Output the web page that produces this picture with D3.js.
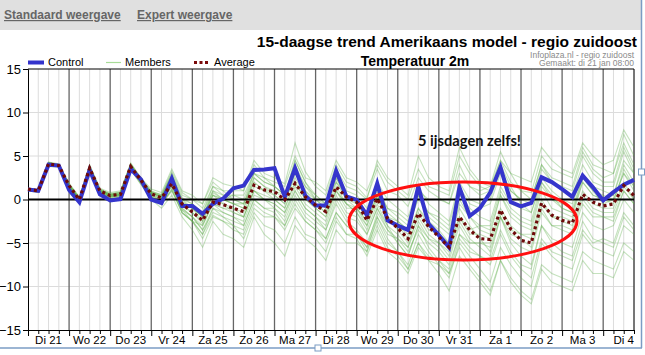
<!DOCTYPE html>
<html><head><meta charset="utf-8">
<script src="https://cdn.jsdelivr.net/npm/d3@7"></script>
<style>html,body{margin:0;padding:0;background:#fff;} svg{display:block;}</style>
</head><body><svg id="c" width="645" height="355"></svg>
<script>
const dayLabels = ["Di 21","Wo 22","Do 23","Vr 24","Za 25","Zo 26","Ma 27","Di 28","Wo 29","Do 30","Vr 31","Za 1","Zo 2","Ma 3","Di 4"];
const yTicks = [-15,-10,-5,0,5,10,15];
const control = [1.15,1.0,4.0,3.9, 1.1,-0.3,3.4,0.6, -0.1,0.05,3.5,2.3, 0.0,-0.4,2.4,-0.75, -0.75,-1.65,-0.5,0.1, 1.3,1.6,3.4,3.45, 3.6,0.3,3.6,0.45, -0.7,-0.7,3.3,0.35, -0.05,-1.8,1.85,-2.4, -3.0,-3.5,1.5,-2.8, -4.1,-5.5,1.4,-1.9, -1.0,0.8,3.7,-0.3, -0.8,-0.4,2.55,2.0, 1.2,0.3,2.75,1.4, -0.1,0.85,1.7,2.25];
const average = [1.2,1.0,4.1,3.9, 1.6,0.0,3.6,1.0, 0.45,0.6,3.8,2.2, 0.65,0.2,1.8,-0.5, -1.45,-2.4,-0.3,-0.6, -1.0,-1.4,1.65,1.1, 0.9,-0.05,1.85,0.3, -0.65,-1.4,1.45,0.3, -0.3,-2.4,0.1,-2.15, -3.3,-4.5,-1.6,-3.1, -4.3,-5.5,-2.0,-3.5, -4.5,-4.6,-1.2,-3.4, -4.7,-5.0,-0.4,-1.8, -2.4,-2.7,0.6,-0.3, -0.75,-0.5,1.6,0.45];
const m01 = [1.3,1.1,4.3,4.0, 1.8,0.2,3.8,1.2, 0.7,0.9,4.2,2.5, 1.2,0.8,3.5,1.0, 0.5,-0.5,2.5,1.8, 1.5,1.0,4.5,3.0, 2.5,1.8,6.5,3.2, 1.5,0.5,4.0,2.0, 1.5,0.2,3.5,1.0, 0.5,-0.8,2.5,1.0, 0.2,-0.5,4.0,1.5, 0.5,1.0,4.5,2.0, 1.0,0.8,5.0,3.5, 3.0,2.5,6.0,4.0, 3.5,3.0,7.5,5.0];
const m02 = [1.1,0.9,3.9,3.8, 1.4,-0.3,3.4,0.8, 0.2,0.3,3.5,1.8, 0.2,-0.6,1.0,-1.5, -2.5,-4.0,-1.8,-2.5, -3.5,-4.0,-1.0,-2.0, -2.0,-3.0,-0.5,-2.5, -3.5,-4.5,-1.5,-3.0, -3.8,-5.5,-2.5,-5.0, -6.0,-7.5,-4.0,-6.0, -7.5,-9.0,-5.0,-6.5, -8.0,-9.5,-5.5,-7.5, -9.0,-10.0,-5.0,-6.5, -7.5,-8.0,-4.0,-5.5, -6.0,-6.5,-3.0,-4.0];
const m03 = [1.2,1.0,4.2,3.9, 1.7,0.1,3.9,1.1, 0.6,0.8,4.0,2.3, 0.8,0.3,2.5,-0.2, -1.0,-2.0,0.8,0.0, -0.5,-1.0,2.5,1.5, 1.0,0.0,2.5,0.5, -0.5,-1.5,1.0,-0.5, -1.5,-3.0,0.0,-2.0, -3.0,-4.0,-1.0,-2.5, -3.5,-5.0,-0.5,-2.0, -3.0,-3.5,0.5,-1.5, -2.5,-3.0,1.5,0.0, -0.5,-1.0,2.5,1.0, 0.5,0.0,3.0,1.5];
const m04 = [1.0,0.8,4.0,3.8, 1.5,-0.2,3.5,0.8, 0.3,0.5,3.6,2.0, 0.5,-0.2,1.5,-1.0, -2.0,-3.5,-1.0,-1.5, -2.0,-2.5,0.5,0.0, -0.5,-1.5,1.0,-1.0, -2.0,-3.0,0.5,-1.5, -2.0,-4.0,-1.0,-3.5, -4.5,-6.0,-3.5,-5.0, -6.0,-7.5,-4.0,-5.5, -6.5,-7.0,-3.5,-6.0, -7.5,-8.0,-3.0,-4.5, -5.0,-5.5,-1.5,-3.0, -3.5,-3.0,0.0,-1.5];
const m05 = [1.3,1.0,4.1,4.0, 1.6,0.0,3.7,1.0, 0.5,0.6,3.9,2.2, 0.7,0.4,2.0,-0.5, -1.5,-2.5,0.0,-0.5, -1.0,-1.5,1.5,1.0, 1.0,0.5,3.0,1.0, 0.0,-0.5,2.0,0.5, 0.0,-1.5,1.5,-1.0, -2.0,-3.0,0.0,-1.5, -2.5,-3.5,0.5,-1.0, -2.0,-2.5,1.5,-0.5, -1.0,-1.5,2.5,1.0, 0.0,-0.5,3.0,1.5, 1.0,0.5,4.0,2.0];
const m06 = [1.1,1.0,4.0,3.9, 1.5,-0.1,3.5,0.9, 0.4,0.4,3.7,2.1, 0.3,-0.3,1.0,-1.2, -2.5,-3.0,-0.5,-1.5, -2.0,-3.0,0.0,-1.0, -1.0,-2.5,0.5,-1.5, -2.5,-3.5,-0.5,-2.5, -3.5,-5.0,-2.0,-4.5, -6.0,-8.0,-5.0,-7.0, -8.5,-10.5,-6.5,-8.0, -9.5,-11.0,-7.0,-9.0, -10.5,-11.5,-7.5,-8.5, -9.0,-9.5,-6.0,-7.0, -7.5,-8.0,-5.0,-6.0];
const m07 = [1.2,1.1,4.3,4.1, 1.9,0.3,4.0,1.3, 0.8,1.0,4.1,2.4, 1.0,0.5,3.0,0.5, 0.0,-1.0,1.5,0.5, 0.5,0.0,3.0,2.0, 1.5,0.5,4.0,1.5, 0.5,-0.5,3.0,1.0, 0.5,-1.0,2.0,0.0, -1.0,-2.0,1.5,-0.5, -1.5,-2.5,2.0,0.0, -0.5,0.0,3.5,1.0, 0.0,-0.5,3.5,2.0, 1.5,1.0,5.0,3.0, 2.0,2.0,6.0,3.5];
const m08 = [1.2,0.9,4.0,3.8, 1.6,0.0,3.6,0.9, 0.4,0.5,3.8,2.0, 0.6,0.0,1.8,-0.8, -1.5,-2.8,-0.5,-1.0, -1.5,-2.0,1.0,0.5, 0.0,-1.0,2.0,0.0, -1.0,-2.0,1.5,-0.5, -1.0,-2.5,0.5,-2.0, -3.5,-5.0,-2.0,-4.0, -5.0,-6.5,-2.5,-4.5, -5.5,-6.5,-2.0,-4.5, -5.5,-6.0,-1.5,-3.0, -3.5,-4.0,-0.5,-2.0, -2.0,-2.5,1.0,-0.5];
const m09 = [1.1,0.9,3.8,3.7, 1.4,-0.4,3.3,0.7, 0.1,0.2,3.4,1.7, 0.0,-1.0,0.5,-2.0, -3.5,-5.5,-2.5,-4.0, -4.5,-5.5,-2.0,-4.0, -5.0,-6.5,-3.0,-4.5, -5.5,-7.0,-3.5,-5.0, -5.0,-6.0,-2.0,-4.0, -4.5,-5.5,-1.5,-3.5, -4.0,-5.0,-1.0,-3.0, -4.5,-6.0,-2.0,-5.0, -6.5,-7.5,-3.0,-5.0, -6.0,-6.5,-2.5,-4.5, -5.0,-5.5,-2.0,-3.5];
const m10 = [1.3,1.1,4.2,4.0, 1.7,0.1,3.8,1.1, 0.6,0.7,4.0,2.3, 0.9,0.4,2.8,0.2, -0.5,-1.5,1.0,0.5, 0.0,-0.5,2.5,1.5, 0.5,-0.5,3.5,1.5, 0.0,-1.0,2.5,0.5, -0.5,-2.0,1.5,-1.5, -2.5,-3.5,0.5,-2.0, -3.0,-4.0,0.0,-2.0, -3.5,-4.0,0.5,-2.0, -3.0,-3.5,1.0,-1.0, -1.5,-2.0,2.0,0.5, 0.0,-0.5,3.5,1.5];
const m11 = [1.2,1.0,4.1,3.9, 1.6,0.0,3.7,1.0, 0.5,0.6,3.9,2.2, 0.7,0.2,2.2,-0.5, -1.0,-2.0,0.5,0.0, 0.5,0.5,3.0,2.5, 2.0,1.5,5.0,2.5, 2.0,1.0,4.5,2.5, 2.0,1.0,4.0,2.0, 1.0,0.0,3.5,1.5, 1.0,0.5,5.0,3.0, 1.5,1.0,4.0,1.5, -0.5,-1.5,2.0,0.0, -1.0,-1.5,2.0,0.5, 0.0,0.5,4.5,3.0];
const m12 = [1.1,0.9,3.9,3.8, 1.5,-0.2,3.4,0.8, 0.3,0.4,3.6,1.9, 0.4,-0.5,1.2,-1.5, -2.5,-4.5,-2.0,-2.5, -3.0,-3.5,-0.5,-1.5, -2.0,-3.5,-1.0,-2.5, -3.5,-5.0,-2.0,-4.0, -4.5,-6.5,-3.5,-6.0, -7.0,-8.5,-5.5,-7.0, -7.5,-8.5,-4.5,-6.0, -6.5,-7.5,-4.0,-6.5, -8.0,-9.0,-4.5,-6.0, -6.5,-7.0,-3.5,-5.0, -4.5,-5.0,-1.5,-3.0];
const m13 = [1.2,1.0,4.1,3.9, 1.6,0.1,3.6,1.0, 0.5,0.6,3.8,2.2, 0.6,0.1,2.0,-0.5, -1.0,-2.5,0.5,-0.5, -1.5,-2.0,1.0,0.0, -0.5,-1.5,1.5,-0.5, -1.5,-2.5,1.0,-1.0, -1.0,-3.0,0.5,-2.5, -3.0,-4.5,-1.0,-3.0, -4.0,-5.5,-2.0,-4.0, -4.0,-4.5,-1.0,-3.0, -4.0,-4.5,-0.5,-2.0, -2.5,-3.0,0.5,-1.0, -1.5,-1.5,1.5,0.0];
const m14 = [1.3,1.1,4.2,4.0, 1.7,0.2,3.8,1.2, 0.6,0.8,4.1,2.4, 0.9,0.6,3.2,0.8, 0.0,-0.5,2.0,1.0, 0.0,-0.5,2.0,1.0, 0.5,-0.5,3.0,1.0, -0.5,-1.5,2.0,0.0, -0.5,-2.0,1.0,-1.0, -1.5,-2.5,1.0,0.0, 0.0,-0.5,3.0,1.5, 1.0,1.5,4.5,3.0, 2.5,2.0,6.0,4.5, 3.5,3.0,6.5,5.0, 4.0,4.5,8.0,6.0];
const m15 = [1.2,1.0,4.0,3.9, 1.5,-0.1,3.5,0.9, 0.4,0.5,3.7,2.1, 0.5,-0.1,1.5,-1.0, -2.0,-3.0,-0.5,-1.0, -1.0,-2.0,1.0,0.0, -1.0,-2.0,1.0,-1.0, -2.0,-3.5,0.0,-2.0, -2.5,-4.0,-1.0,-3.0, -4.0,-5.5,-2.5,-4.5, -5.5,-7.0,-3.0,-5.0, -5.0,-5.0,-1.5,-3.5, -4.0,-4.0,0.0,-2.0, -2.0,-2.5,1.0,-0.5, -1.0,-1.0,2.0,0.0];
const m16 = [1.1,1.0,4.1,3.9, 1.6,0.0,3.6,1.0, 0.5,0.6,3.8,2.2, 0.7,0.3,2.3,-0.3, -1.0,-2.0,0.5,0.0, -0.5,-1.0,2.0,1.0, 0.0,-1.0,2.0,0.0, -1.0,-2.0,1.0,-0.5, -1.5,-3.5,-0.5,-3.0, -5.0,-6.5,-3.0,-4.5, -5.0,-6.0,-2.0,-3.5, -3.0,-3.0,1.0,-1.0, -2.0,-2.5,2.0,0.5, -1.0,-1.5,2.5,1.0, -0.5,0.0,3.0,1.0];
const m17 = [1.2,1.0,4.2,4.0, 1.5,0.0,3.7,1.0, 0.4,0.5,3.9,2.0, 0.4,-0.4,1.6,-1.2, -2.0,-3.5,-1.5,-2.0, -3.0,-4.5,-1.5,-3.0, -3.5,-5.0,-2.0,-4.0, -4.5,-6.0,-2.5,-4.0, -4.0,-5.5,-1.5,-3.5, -5.0,-6.5,-3.0,-5.5, -7.0,-8.0,-4.0,-5.0, -5.0,-5.5,-2.0,-4.0, -4.5,-5.5,-1.0,-3.0, -3.0,-3.5,0.0,-1.5, -2.0,-2.0,1.0,-0.5];
const m18 = [1.2,1.0,4.0,3.9, 1.6,0.1,3.7,1.0, 0.5,0.7,3.9,2.3, 0.8,0.5,2.8,0.0, -0.5,-1.5,1.5,1.0, 1.0,1.0,4.0,2.5, 1.5,0.5,4.5,2.0, 0.5,-0.5,3.5,1.5, 1.0,0.0,4.5,2.5, 1.5,0.5,5.0,2.5, 1.5,1.0,6.0,3.5, 2.0,1.5,5.5,3.0, 1.0,0.0,4.0,2.0, 1.0,0.5,4.0,2.0, 1.5,1.5,5.5,3.0];
const m19 = [1.1,0.9,3.9,3.8, 1.5,-0.2,3.5,0.8, 0.3,0.3,3.5,1.8, 0.3,-0.6,1.2,-1.5, -2.5,-4.0,-1.0,-2.0, -2.5,-3.0,0.0,-1.0, -1.5,-3.0,0.0,-2.0, -3.0,-4.5,-1.5,-3.0, -4.0,-6.0,-3.0,-5.5, -6.5,-8.0,-5.0,-6.5, -7.0,-8.5,-5.5,-7.5, -9.0,-10.5,-7.0,-9.5, -11.0,-12.0,-8.0,-9.5, -10.0,-10.5,-7.0,-8.5, -8.5,-9.0,-6.0,-7.0];
const m20 = [1.3,1.1,4.2,4.0, 1.7,0.1,3.8,1.1, 0.6,0.8,4.0,2.3, 0.8,0.3,2.6,0.0, -1.0,-2.0,1.0,0.0, -0.5,-0.5,3.0,2.0, 1.5,0.5,4.5,2.0, 0.0,-1.0,2.5,0.0, -1.0,-2.5,0.5,-2.0, -2.5,-3.5,0.5,-1.5, -2.0,-3.0,1.5,-0.5, -1.0,-0.5,3.0,1.0, 0.0,0.0,4.0,2.5, 2.0,1.5,5.5,3.5, 2.5,3.0,6.5,4.0];
const members = [m01,m02,m03,m04,m05,m06,m07,m08,m09,m10,m11,m12,m13,m14,m15,m16,m17,m18,m19,m20];

const svg = d3.select("#c");
const pLeft = 28, pRight = 634, pTop = 69, pBottom = 330;
const n = control.length;
const x = d3.scaleLinear().domain([0, n - 1]).range([pLeft, pRight]);
const y = d3.scaleLinear().domain([-15, 15]).range([pBottom, pTop]);
const FONT = "'Liberation Sans', Arial, sans-serif";

// header band
svg.append("rect").attr("x",0).attr("y",0).attr("width",641).attr("height",30).attr("fill","#e0e0e0");
const tabs = [["Standaard weergave",4],["Expert weergave",137]];
tabs.forEach(t => svg.append("text").attr("x",t[1]).attr("y",19).text(t[0])
  .attr("font-family",FONT).attr("font-size",12).attr("font-weight","bold")
  .attr("fill","#666").attr("text-decoration","underline"));

// title
svg.append("text").attr("x",637).attr("y",46.5).attr("text-anchor","end")
  .attr("font-family",FONT).attr("font-size",15.5).attr("font-weight","bold").attr("fill","#000")
  .text("15-daagse trend Amerikaans model - regio zuidoost");
svg.append("text").attr("x",634).attr("y",57.5).attr("text-anchor","end")
  .attr("font-family",FONT).attr("font-size",8.5).attr("fill","#8a8a8a").text("Infoplaza.nl - regio zuidoost");
svg.append("text").attr("x",634).attr("y",66).attr("text-anchor","end")
  .attr("font-family",FONT).attr("font-size",8.5).attr("fill","#8a8a8a").text("Gemaakt: di 21 jan 08:00");
svg.append("text").attr("x",415).attr("y",66).attr("text-anchor","middle")
  .attr("font-family",FONT).attr("font-size",14).attr("font-weight","bold").attr("fill","#000").text("Temperatuur 2m");

// legend
const lg = svg.append("g");
lg.append("line").attr("x1",28).attr("x2",44).attr("y1",62.5).attr("y2",62.5).attr("stroke","#3333cc").attr("stroke-width",4);
lg.append("text").attr("x",48).attr("y",66).text("Control").attr("font-family",FONT).attr("font-size",11);
lg.append("line").attr("x1",106).attr("x2",121).attr("y1",62.5).attr("y2",62.5).attr("stroke","#a8dc98").attr("stroke-width",1.2);
lg.append("text").attr("x",125).attr("y",66).text("Members").attr("font-family",FONT).attr("font-size",11);
lg.append("line").attr("x1",194).attr("x2",209).attr("y1",62.5).attr("y2",62.5).attr("stroke","#7a0a0a").attr("stroke-width",3).attr("stroke-dasharray","3,2.5");
lg.append("text").attr("x",214).attr("y",66).text("Average").attr("font-family",FONT).attr("font-size",11);

// grid
const g = svg.append("g");
const idx = d3.range(n);
g.selectAll("line.v").data(idx.filter(i => i % 4 !== 0)).enter().append("line")
  .attr("x1",d=>x(d)).attr("x2",d=>x(d)).attr("y1",pTop).attr("y2",pBottom).attr("stroke","#dcdcdc").attr("stroke-width",1);
g.selectAll("line.h").data(yTicks.filter(v => v !== 0 && Math.abs(v) !== 15)).enter().append("line")
  .attr("x1",pLeft).attr("x2",pRight).attr("y1",d=>y(d)).attr("y2",d=>y(d)).attr("stroke","#dcdcdc").attr("stroke-width",1);
g.selectAll("line.d").data(idx.filter(i => i % 4 === 0 && i > 0)).enter().append("line")
  .attr("x1",d=>x(d)).attr("x2",d=>x(d)).attr("y1",pTop).attr("y2",pBottom).attr("stroke","#666").attr("stroke-width",1.3);

// axes
const yAxis = d3.axisLeft(y).tickValues(yTicks).tickSize(5).tickPadding(2).tickFormat(d3.format("d"));
const ya = svg.append("g").attr("transform",`translate(${pLeft},0)`).call(yAxis);
ya.selectAll("text").attr("font-family",FONT).attr("font-size",13).attr("fill","#000");
ya.selectAll("line").attr("stroke","#000");
ya.select(".domain").attr("stroke","#000");

const xAxis = d3.axisBottom(x).tickValues(idx.filter(i => i % 4 !== 0)).tickSize(4).tickFormat("");
const xa = svg.append("g").attr("transform",`translate(0,${pBottom})`).call(xAxis);
xa.selectAll("line").attr("stroke","#000");
xa.select(".domain").attr("stroke","#000");
const xAxisDays = d3.axisBottom(x).tickValues(idx.filter(i => i % 4 === 0)).tickSize(6).tickFormat("");
svg.append("g").attr("transform",`translate(0,${pBottom})`).call(xAxisDays).call(s => s.select(".domain").remove()).selectAll("line").attr("stroke","#000");
svg.append("g").selectAll("text").data(dayLabels).enter().append("text")
  .attr("x",(d,i)=>x(i*4+2)).attr("y",344).attr("text-anchor","middle")
  .attr("font-family",FONT).attr("font-size",11.5).attr("fill","#000").text(d=>d);

// frame top/right
svg.append("line").attr("x1",pLeft).attr("x2",pRight).attr("y1",pTop).attr("y2",pTop).attr("stroke","#000");
svg.append("line").attr("x1",pRight).attr("x2",pRight).attr("y1",pTop).attr("y2",pBottom).attr("stroke","#000");

// series
const line = d3.line().x((d,i)=>x(i)).y(d=>y(d));
svg.append("g").selectAll("path").data(members).enter().append("path")
  .attr("d",line).attr("fill","none").attr("stroke","#5db04a").attr("stroke-opacity",0.36).attr("stroke-width",1.1);
svg.append("line").attr("x1",pLeft).attr("x2",pRight).attr("y1",y(0)).attr("y2",y(0)).attr("stroke","#000").attr("stroke-width",2.2);
svg.append("path").datum(control).attr("d",line).attr("fill","none").attr("stroke","#3535cc").attr("stroke-width",4).attr("stroke-linejoin","miter");
svg.append("path").datum(average).attr("d",line).attr("fill","none").attr("stroke","#6e0a0a").attr("stroke-width",3.2).attr("stroke-dasharray","3,3");

// annotation
svg.append("ellipse").attr("cx",463).attr("cy",221).attr("rx",114).attr("ry",39)
  .attr("fill","none").attr("stroke","#ff1010").attr("stroke-width",3);
svg.append("text").attr("x",418).attr("y",146).text("5 ijsdagen zelfs!")
  .attr("font-family","Lato, 'Open Sans', sans-serif").attr("font-weight","bold").attr("font-size",14.5).attr("fill","#111")
  .attr("textLength",103).attr("lengthAdjust","spacingAndGlyphs");

// editor selection frame
svg.append("line").attr("x1",641.5).attr("x2",641.5).attr("y1",0).attr("y2",348).attr("stroke","#7b9cc4").attr("stroke-width",1.5);
svg.append("line").attr("x1",0).attr("x2",642).attr("y1",348).attr("y2",348).attr("stroke","#7b9cc4").attr("stroke-width",1.5);
[[318,348],[641.5,172]].forEach(p => svg.append("rect").attr("x",p[0]-3).attr("y",p[1]-3).attr("width",6).attr("height",6)
  .attr("fill","#fff").attr("stroke","#7b9cc4"));
</script>
</body></html>
